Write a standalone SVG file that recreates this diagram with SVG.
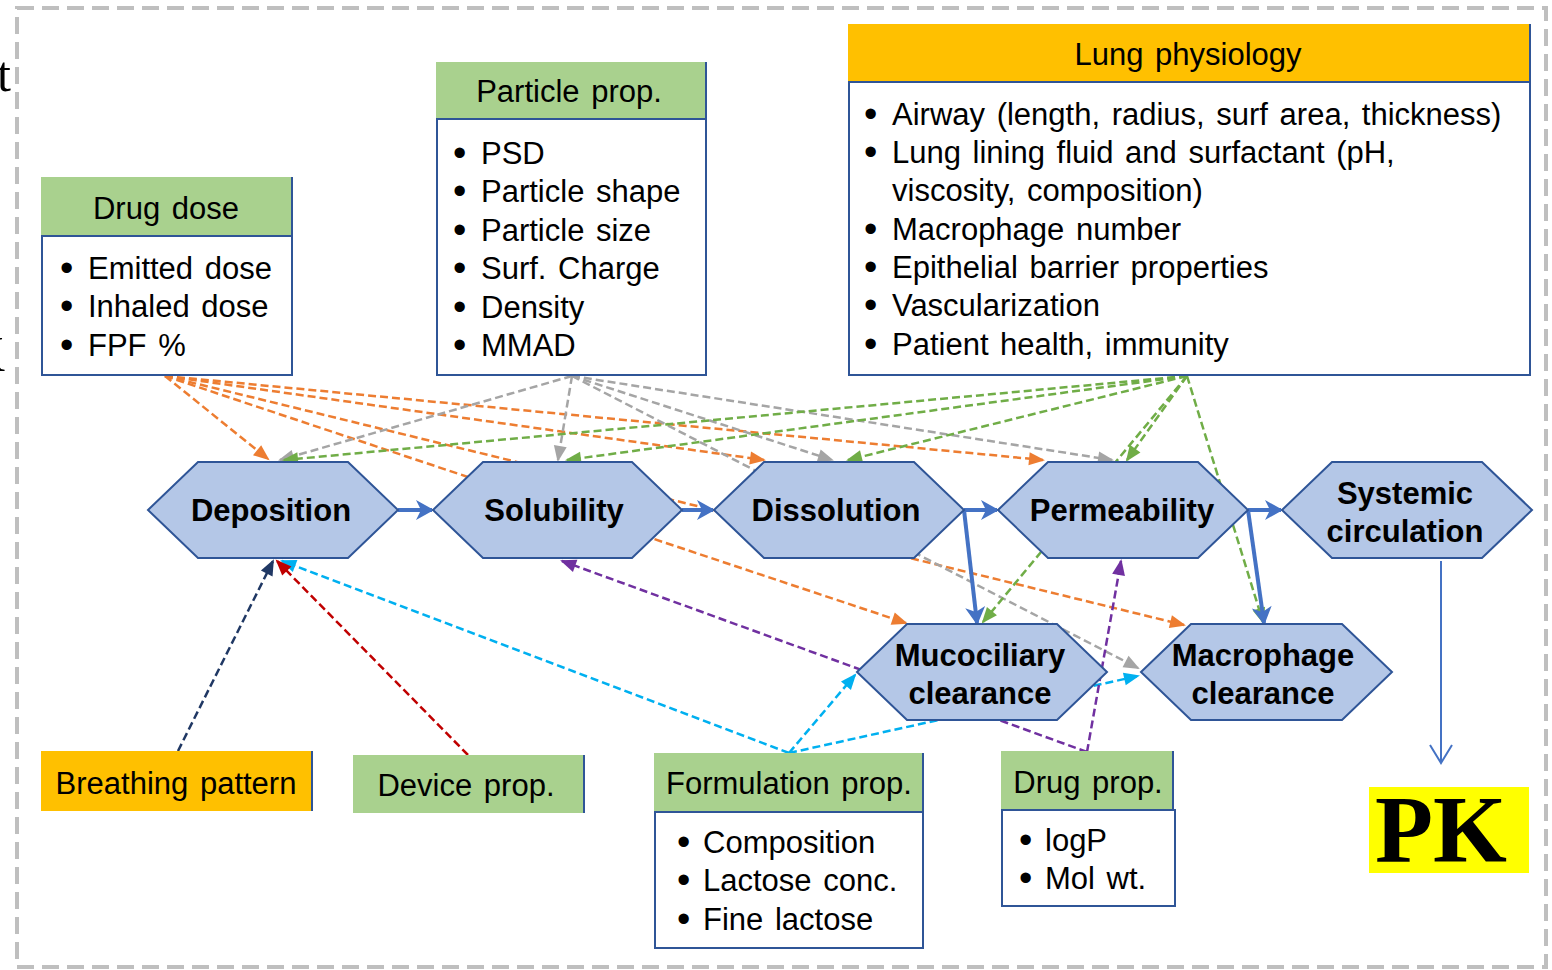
<svg xmlns="http://www.w3.org/2000/svg" width="1552" height="970" viewBox="0 0 1552 970">
<style>
.t{font-family:"Liberation Sans",Arial,sans-serif;font-size:31px;fill:#000;word-spacing:3px}
.bu{font-size:38px}
.c{text-anchor:middle}
.b{font-family:"Liberation Sans",Arial,sans-serif;font-size:31px;font-weight:bold;fill:#000;text-anchor:middle}
.hx{fill:#B4C7E7;stroke:#2F5597;stroke-width:2}
.box{fill:#fff;stroke:#2F5597;stroke-width:2}
.edge{stroke:#2F5597;stroke-width:2}
.hg{fill:#A9D18E}
.ho{fill:#FFC000}
.d{fill:none;stroke-width:2.5;stroke-dasharray:8 4}
.or{stroke:#ED7D31}.gr{stroke:#A5A5A5}.gn{stroke:#70AD47}.lb{stroke:#00B0F0}.pu{stroke:#7030A0}.nv{stroke:#203864}.rd{stroke:#C00000}
.s{fill:none;stroke:#4472C4;stroke-width:4}
</style>
<defs>
<marker id="mor" markerUnits="userSpaceOnUse" markerWidth="16" markerHeight="14" refX="14" refY="6.5" orient="auto" overflow="visible"><path d="M0,0 L16,6.5 L0,13 z" fill="#ED7D31"/></marker>
<marker id="mgr" markerUnits="userSpaceOnUse" markerWidth="16" markerHeight="14" refX="14" refY="6.5" orient="auto" overflow="visible"><path d="M0,0 L16,6.5 L0,13 z" fill="#A5A5A5"/></marker>
<marker id="mgn" markerUnits="userSpaceOnUse" markerWidth="16" markerHeight="14" refX="14" refY="6.5" orient="auto" overflow="visible"><path d="M0,0 L16,6.5 L0,13 z" fill="#70AD47"/></marker>
<marker id="mlb" markerUnits="userSpaceOnUse" markerWidth="16" markerHeight="14" refX="14" refY="6.5" orient="auto" overflow="visible"><path d="M0,0 L16,6.5 L0,13 z" fill="#00B0F0"/></marker>
<marker id="mpu" markerUnits="userSpaceOnUse" markerWidth="16" markerHeight="14" refX="14" refY="6.5" orient="auto" overflow="visible"><path d="M0,0 L16,6.5 L0,13 z" fill="#7030A0"/></marker>
<marker id="mnv" markerUnits="userSpaceOnUse" markerWidth="16" markerHeight="14" refX="14" refY="6.5" orient="auto" overflow="visible"><path d="M0,0 L16,6.5 L0,13 z" fill="#203864"/></marker>
<marker id="mrd" markerUnits="userSpaceOnUse" markerWidth="16" markerHeight="14" refX="14" refY="6.5" orient="auto" overflow="visible"><path d="M0,0 L16,6.5 L0,13 z" fill="#C00000"/></marker>
<marker id="mbl" markerUnits="userSpaceOnUse" markerWidth="18" markerHeight="20" refX="16" refY="10" orient="auto" overflow="visible"><path d="M0,0 L18,10 L0,20 L5,10 z" fill="#4472C4"/></marker>
<marker id="mopen" markerUnits="userSpaceOnUse" markerWidth="20" markerHeight="24" refX="18" refY="11" orient="auto" overflow="visible"><path d="M0,0 L18,11 L0,22" fill="none" stroke="#4472C4" stroke-width="2"/></marker>
</defs>
<rect width="1552" height="970" fill="#fff"/>
<rect x="17" y="8" width="1529" height="959" fill="none" stroke="#BFBFBF" stroke-width="4" stroke-dasharray="17 8"/>
<text x="-3" y="91" font-family="Liberation Serif,serif" font-size="50">t</text>
<text x="-31" y="371" font-family="Liberation Serif,serif" font-size="50">K</text>

<g id="connectors">
<line class="d or" x1="165" y1="376" x2="268" y2="459" marker-end="url(#mor)"/>
<line class="d or" x1="165" y1="376" x2="764" y2="460" marker-end="url(#mor)"/>
<line class="d or" x1="165" y1="376" x2="1043" y2="460" marker-end="url(#mor)"/>
<line class="d or" x1="165" y1="376" x2="906" y2="623" marker-end="url(#mor)"/>
<line class="d or" x1="165" y1="376" x2="1184" y2="625" marker-end="url(#mor)"/>
<line class="d gr" x1="572" y1="376" x2="280" y2="460" marker-end="url(#mgr)"/>
<line class="d gr" x1="572" y1="376" x2="558" y2="460" marker-end="url(#mgr)"/>
<line class="d gr" x1="572" y1="376" x2="832" y2="460" marker-end="url(#mgr)"/>
<line class="d gr" x1="572" y1="376" x2="1112" y2="460" marker-end="url(#mgr)"/>
<line class="d gr" x1="572" y1="376" x2="1138" y2="668" marker-end="url(#mgr)"/>
<line class="d gn" x1="1187" y1="376" x2="284" y2="460" marker-end="url(#mgn)"/>
<line class="d gn" x1="1187" y1="376" x2="567" y2="460" marker-end="url(#mgn)"/>
<line class="d gn" x1="1187" y1="376" x2="848" y2="460" marker-end="url(#mgn)"/>
<line class="d gn" x1="1187" y1="376" x2="1127" y2="460" marker-end="url(#mgn)"/>
<line class="d gn" x1="1187" y1="376" x2="983" y2="622" marker-end="url(#mgn)"/>
<line class="d gn" x1="1187" y1="376" x2="1263" y2="622" marker-end="url(#mgn)"/>
<line class="d lb" x1="789" y1="753" x2="282" y2="561" marker-end="url(#mlb)"/>
<line class="d lb" x1="789" y1="753" x2="855" y2="675" marker-end="url(#mlb)"/>
<line class="d lb" x1="789" y1="753" x2="1138" y2="676" marker-end="url(#mlb)"/>
<line class="d pu" x1="1087" y1="752" x2="562" y2="561" marker-end="url(#mpu)"/>
<line class="d pu" x1="1087" y1="752" x2="1121" y2="561" marker-end="url(#mpu)"/>
<line class="d nv" x1="178" y1="751" x2="273" y2="561" marker-end="url(#mnv)"/>
<line class="d rd" x1="468" y1="755" x2="277" y2="561" marker-end="url(#mrd)"/>
<line class="s" x1="398" y1="510" x2="432" y2="510" marker-end="url(#mbl)"/>
<line class="s" x1="682" y1="510" x2="713" y2="510" marker-end="url(#mbl)"/>
<line class="s" x1="964" y1="510" x2="997" y2="510" marker-end="url(#mbl)"/>
<line class="s" x1="1248" y1="510" x2="1281" y2="510" marker-end="url(#mbl)"/>
<line class="s" x1="964" y1="510" x2="977" y2="623" marker-end="url(#mbl)"/>
<line class="s" x1="1248" y1="510" x2="1264" y2="623" marker-end="url(#mbl)"/>
<line x1="1441" y1="561" x2="1441" y2="763" stroke="#4472C4" stroke-width="2" marker-end="url(#mopen)"/>
</g>

<g id="drug-dose">
<rect class="hg" x="41" y="177" width="251" height="59"/>
<line class="edge" x1="292" y1="177" x2="292" y2="236"/>
<rect class="box" x="42" y="236" width="250" height="139"/>
<text class="t c" x="166" y="219">Drug dose</text>
<text class="t" x="60" y="281"><tspan class="bu">•</tspan><tspan x="88" dy="-2">Emitted dose</tspan></text>
<text class="t" x="60" y="319"><tspan class="bu">•</tspan><tspan x="88" dy="-2">Inhaled dose</tspan></text>
<text class="t" x="60" y="358"><tspan class="bu">•</tspan><tspan x="88" dy="-2">FPF %</tspan></text>
</g>

<g id="particle-prop">
<rect class="hg" x="436" y="62" width="270" height="57"/>
<line class="edge" x1="706" y1="62" x2="706" y2="119"/>
<rect class="box" x="437" y="119" width="269" height="256"/>
<text class="t c" x="569" y="102">Particle prop.</text>
<text class="t" x="453" y="166"><tspan class="bu">•</tspan><tspan x="481" dy="-2">PSD</tspan></text>
<text class="t" x="453" y="204"><tspan class="bu">•</tspan><tspan x="481" dy="-2">Particle shape</tspan></text>
<text class="t" x="453" y="243"><tspan class="bu">•</tspan><tspan x="481" dy="-2">Particle size</tspan></text>
<text class="t" x="453" y="281"><tspan class="bu">•</tspan><tspan x="481" dy="-2">Surf. Charge</tspan></text>
<text class="t" x="453" y="320"><tspan class="bu">•</tspan><tspan x="481" dy="-2">Density</tspan></text>
<text class="t" x="453" y="358"><tspan class="bu">•</tspan><tspan x="481" dy="-2">MMAD</tspan></text>
</g>

<g id="lung-physiology">
<rect class="ho" x="848" y="24" width="682" height="58"/>
<line class="edge" x1="1530" y1="24" x2="1530" y2="82"/>
<rect class="box" x="849" y="82" width="681" height="293"/>
<text class="t c" x="1188" y="65">Lung physiology</text>
<text class="t" x="864" y="127"><tspan class="bu">•</tspan><tspan x="892" dy="-2">Airway (length, radius, surf area, thickness)</tspan></text>
<text class="t" x="864" y="165"><tspan class="bu">•</tspan><tspan x="892" dy="-2">Lung lining fluid and surfactant (pH,</tspan></text>
<text class="t" x="892" y="201">viscosity, composition)</text>
<text class="t" x="864" y="242"><tspan class="bu">•</tspan><tspan x="892" dy="-2">Macrophage number</tspan></text>
<text class="t" x="864" y="280"><tspan class="bu">•</tspan><tspan x="892" dy="-2">Epithelial barrier properties</tspan></text>
<text class="t" x="864" y="318"><tspan class="bu">•</tspan><tspan x="892" dy="-2">Vascularization</tspan></text>
<text class="t" x="864" y="357"><tspan class="bu">•</tspan><tspan x="892" dy="-2">Patient health, immunity</tspan></text>
</g>

<g id="deposition">
<polygon class="hx" points="148,510 198,462 348,462 398,510 348,558 198,558"/>
<text class="b" x="271" y="521">Deposition</text>
</g>
<g id="solubility">
<polygon class="hx" points="433,510 483,462 632,462 682,510 632,558 483,558"/>
<text class="b" x="554" y="521">Solubility</text>
</g>
<g id="dissolution">
<polygon class="hx" points="714,510 764,462 914,462 964,510 914,558 764,558"/>
<text class="b" x="836" y="521">Dissolution</text>
</g>
<g id="permeability">
<polygon class="hx" points="998,510 1048,462 1198,462 1248,510 1198,558 1048,558"/>
<text class="b" x="1122" y="521">Permeability</text>
</g>
<g id="systemic-circulation">
<polygon class="hx" points="1282,510 1332,462 1482,462 1532,510 1482,558 1332,558"/>
<text class="b" x="1405" y="504">Systemic</text>
<text class="b" x="1405" y="542">circulation</text>
</g>
<g id="mucociliary-clearance">
<polygon class="hx" points="857,672 907,624 1057,624 1107,672 1057,720 907,720"/>
<text class="b" x="980" y="666">Mucociliary</text>
<text class="b" x="980" y="704">clearance</text>
</g>
<g id="macrophage-clearance">
<polygon class="hx" points="1141,672 1191,624 1342,624 1392,672 1342,720 1191,720"/>
<text class="b" x="1263" y="666">Macrophage</text>
<text class="b" x="1263" y="704">clearance</text>
</g>

<g id="breathing-pattern">
<rect class="ho" x="41" y="751" width="271" height="60"/>
<line class="edge" x1="312" y1="751" x2="312" y2="811"/>
<text class="t c" x="176" y="794">Breathing pattern</text>
</g>
<g id="device-prop">
<rect class="hg" x="353" y="755" width="231" height="58"/>
<line class="edge" x1="584" y1="755" x2="584" y2="813"/>
<text class="t c" x="466" y="796">Device prop.</text>
</g>
<g id="formulation-prop">
<rect class="hg" x="654" y="753" width="269" height="59"/>
<line class="edge" x1="923" y1="753" x2="923" y2="812"/>
<rect class="box" x="655" y="812" width="268" height="136"/>
<text class="t c" x="789" y="794">Formulation prop.</text>
<text class="t" x="677" y="855"><tspan class="bu">•</tspan><tspan x="703" dy="-2">Composition</tspan></text>
<text class="t" x="677" y="893"><tspan class="bu">•</tspan><tspan x="703" dy="-2">Lactose conc.</tspan></text>
<text class="t" x="677" y="932"><tspan class="bu">•</tspan><tspan x="703" dy="-2">Fine lactose</tspan></text>
</g>
<g id="drug-prop">
<rect class="hg" x="1001" y="751" width="172" height="59"/>
<line class="edge" x1="1173" y1="751" x2="1173" y2="810"/>
<rect class="box" x="1002" y="810" width="173" height="96"/>
<text class="t c" x="1088" y="793">Drug prop.</text>
<text class="t" x="1019" y="853"><tspan class="bu">•</tspan><tspan x="1045" dy="-2">logP</tspan></text>
<text class="t" x="1019" y="891"><tspan class="bu">•</tspan><tspan x="1045" dy="-2">Mol wt.</tspan></text>
</g>
<g id="pk">
<rect x="1369" y="787" width="160" height="86" fill="#FFFF00"/>
<text x="1441" y="862" font-family="Liberation Serif,'Times New Roman',serif" font-size="95" font-weight="bold" text-anchor="middle">PK</text>
</g>
</svg>
